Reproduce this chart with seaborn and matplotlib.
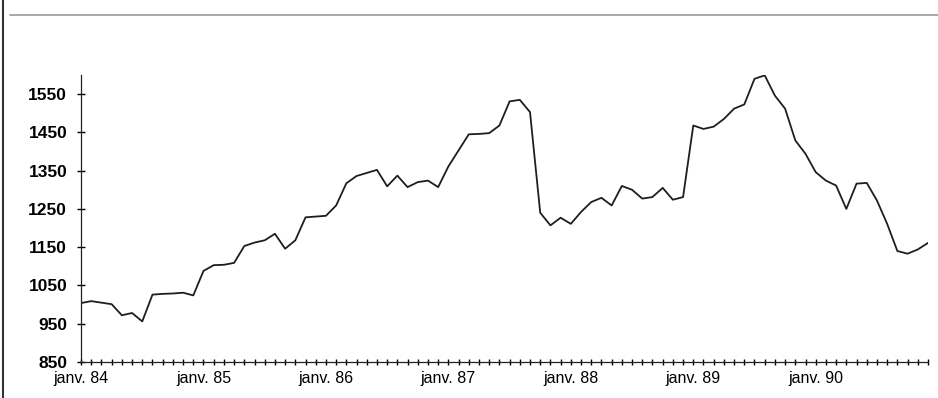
import matplotlib
matplotlib.use("Agg")
import matplotlib.pyplot as plt
from matplotlib.lines import Line2D
import seaborn as sns
import pandas as pd

# monthly values, janv. 84 -> déc. 90
values_84 = [1004, 1009, 1005, 1001, 972, 978, 956, 1026, 1028, 1029, 1031, 1024]
values_85 = [1088, 1103, 1104, 1109, 1153, 1162, 1168, 1185, 1146, 1168, 1228, 1230]
values_86 = [1232, 1259, 1317, 1336, 1344, 1352, 1309, 1337, 1307, 1320, 1324, 1307]
values_87 = [1361, 1403, 1445, 1446, 1448, 1468, 1531, 1535, 1503, 1240, 1207, 1227]
values_88 = [1211, 1242, 1268, 1279, 1259, 1310, 1300, 1277, 1281, 1305, 1274, 1281]
values_89 = [1468, 1459, 1465, 1485, 1512, 1523, 1590, 1599, 1546, 1512, 1429, 1394]
values_90 = [1346, 1324, 1311, 1250, 1316, 1318, 1272, 1211, 1140, 1133, 1144, 1161]

year_labels = ["janv. 84", "janv. 85", "janv. 86", "janv. 87",
               "janv. 88", "janv. 89", "janv. 90"]
y_ticks = [850, 950, 1050, 1150, 1250, 1350, 1450, 1550]

values = (values_84 + values_85 + values_86 + values_87
          + values_88 + values_89 + values_90)
df = pd.DataFrame({"month": range(len(values)), "value": values})

sns.set_style("ticks")
plt.rcParams.update({
    "font.family": ["Liberation Sans", "DejaVu Sans"],
    "axes.linewidth": 0.9,
})

fig = plt.figure(figsize=(9.38, 3.98), dpi=100)
ax = fig.add_axes([0.0864, 0.0905, 0.9029, 0.7211])

sns.lineplot(data=df, x="month", y="value", color="#1e1e1e", linewidth=1.3, ax=ax)

ax.set_xlim(0, len(values) - 1)
ax.set_ylim(850, 1600)
ax.set_xlabel("")
ax.set_ylabel("")

# a tick on every month, a label each janvier
ax.set_xticks(range(len(values)))
labels = [""] * len(values)
for k, lab in enumerate(year_labels):
    labels[k * 12] = lab
ax.set_xticklabels(labels, fontsize=11.5)
ax.set_yticks(y_ticks)
ax.set_yticklabels([str(v) for v in y_ticks], fontsize=12.5, fontweight="bold")

ax.tick_params(axis="x", bottom=True, direction="inout", length=4, width=1.0,
               pad=4.5, colors="black")
ax.tick_params(axis="y", left=True, direction="inout", length=6, width=1.0,
               pad=7, colors="black")

for side in ["top", "right"]:
    ax.spines[side].set_visible(False)
for side in ["left", "bottom"]:
    ax.spines[side].set_color("#222222")

# frame of the scanned page
fig.add_artist(Line2D([0.0027, 0.0027], [0, 1], color="#333333", linewidth=1.5))
fig.add_artist(Line2D([0.011, 1.0], [0.962, 0.962], color="#9a9a9a", linewidth=1.2))

fig.savefig("out.png", dpi=100)
